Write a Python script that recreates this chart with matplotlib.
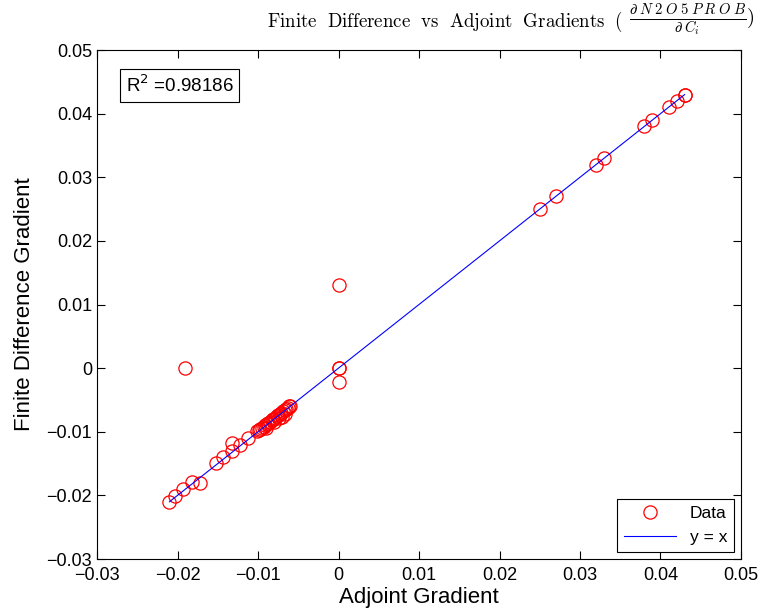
import numpy as np
import matplotlib
matplotlib.use('Agg')
import matplotlib.pyplot as plt

plt.rcParams['font.family'] = ['Liberation Sans', 'DejaVu Sans']
plt.rcParams['mathtext.fontset'] = 'cm'

# adjoint gradient (x) vs finite difference gradient (y)
adj = [-0.021, -0.0203, -0.0193, -0.0182, -0.0172, -0.0191,
       -0.0152, -0.0143, -0.0132, -0.0132, -0.0122, -0.0112,
       -0.0101, -0.0099, -0.0097, -0.0095, -0.0093, -0.0091, -0.0089,
       -0.0087, -0.0085, -0.0083, -0.0081, -0.0079, -0.0077, -0.0075,
       -0.0073, -0.0071, -0.0069, -0.0067, -0.0065, -0.0063, -0.0061,
       -0.0060, -0.0074, -0.0070, -0.0066, -0.0080, -0.0090,
       0.0, 0.0, 0.0, 0.0,
       0.025, 0.027, 0.032, 0.033, 0.038, 0.039, 0.041, 0.042, 0.043, 0.043]
fd = [-0.021, -0.0201, -0.019, -0.0179, -0.0181, 0.0,
      -0.0149, -0.014, -0.013, -0.0118, -0.0121, -0.011,
      -0.0099, -0.0097, -0.0096, -0.0094, -0.0092, -0.0089, -0.0088,
      -0.0086, -0.0084, -0.0082, -0.0080, -0.0078, -0.0076, -0.0074,
      -0.0072, -0.0070, -0.0068, -0.0066, -0.0064, -0.0062, -0.0060,
      -0.0059, -0.0078, -0.0077, -0.0072, -0.0084, -0.0094,
      0.0, 0.0, 0.013, -0.0022,
      0.025, 0.027, 0.032, 0.033, 0.038, 0.039, 0.041, 0.042, 0.043, 0.043]
r2 = 0.98186
ticks = [-0.03, -0.02, -0.01, 0, 0.01, 0.02, 0.03, 0.04, 0.05]
tick_labels = ['\u22120.03', '\u22120.02', '\u22120.01', '0', '0.01', '0.02', '0.03', '0.04', '0.05']

fig = plt.figure(figsize=(7.61, 6.10), dpi=100)
ax = fig.add_axes([0.1275, 0.0836, 0.8462, 0.8344])

ax.plot(adj, fd, 'o', mfc='none', mec='red', ms=9.5, mew=0.9, label='Data')
lo, hi = min(adj), max(adj)
ax.plot([lo, hi], [lo, hi], '-', color='blue', lw=0.8, label='y = x')

ax.set_xlim(-0.03, 0.05)
ax.set_ylim(-0.03, 0.05)
ax.set_xticks(ticks)
ax.set_yticks(ticks)
ax.set_xticklabels(tick_labels)
ax.set_yticklabels(tick_labels)
ax.tick_params(direction='in', length=6, top=True, right=True, labelsize=13)
ax.tick_params(axis='x', pad=6)
for s in ax.spines.values():
    s.set_linewidth(0.8)

ax.set_xlabel('Adjoint Gradient', fontsize=16, labelpad=2)
ax.set_ylabel('Finite Difference Gradient', fontsize=16, labelpad=8)

ax.text(0.045, 0.93, 'R$^2$ =%.5f' % r2, transform=ax.transAxes, fontsize=13.5,
        va='center', ha='left', math_fontfamily='dejavusans',
        bbox=dict(boxstyle='square,pad=0.3', fc='white', ec='black', lw=0.8))

leg = ax.legend(loc='lower right', fontsize=12.5, fancybox=False, edgecolor='black',
                framealpha=1, borderaxespad=0.4, handlelength=3)
leg.get_frame().set_linewidth(0.8)

# title: fraction at the right, body text placed just left of it
W, H = 761, 610
frac = fig.text(755 / W, 1 - 20 / H,
                r'$\frac{\partial\;N\;2\;O\;5\;P\;R\;O\;B}{\partial\;C_i}\mathrm{)}$',
                ha='right', va='center', fontsize=15)
fig.canvas.draw()
bb = frac.get_window_extent(fig.canvas.get_renderer())
fig.text((bb.x0 - 6) / W, 1 - 22 / H,
         r'$\mathrm{Finite\ \ Difference\ \ vs\ \ Adjoint\ \ Gradients\ \ (}$',
         ha='right', va='center', fontsize=13.6)

fig.savefig('out.png', dpi=100)
